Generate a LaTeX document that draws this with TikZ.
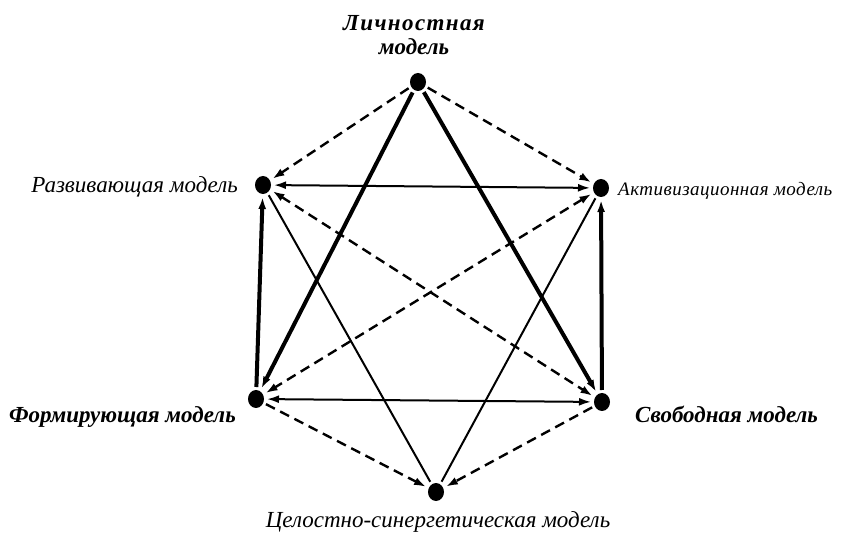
\documentclass[tikz,border=0pt]{standalone}
\usepackage{fontspec}
\setmainfont{Liberation Serif}
\newfontfamily\bspaced[LetterSpace=6]{Liberation Serif}
\newfontfamily\ispaced[LetterSpace=2.5]{Liberation Serif}
\usetikzlibrary{arrows.meta,shapes.geometric}
\tikzset{
  dot/.style={ellipse,fill=black,inner sep=0pt,minimum width=16pt,minimum height=18pt,outer sep=3pt},
  tip/.style={-{Latex[length=12pt,width=8pt]}},
  both/.style={{Latex[length=12pt,width=8pt]}-{Latex[length=12pt,width=8pt]}},
  thickline/.style={line width=4pt},
  thinline/.style={line width=2pt},
  dashline/.style={line width=2.4pt,dash pattern=on 10pt off 6pt},
  lbl/.style={font=\fontsize{23}{26}\selectfont\itshape,inner sep=0pt},
  blbl/.style={font=\fontsize{23}{24}\selectfont\bfseries\itshape,inner sep=0pt,align=center}
}
\begin{document}
\begin{tikzpicture}[x=1pt,y=1pt]
\useasboundingbox (0,0) rectangle (860,536);
\node[dot] (L) at (418,454) {};
\node[dot] (R) at (263,351) {};
\node[dot] (A) at (601,348) {};
\node[dot] (F) at (256,137) {};
\node[dot] (S) at (602,134) {};
\node[dot] (C) at (436,44) {};
% labels
\node[blbl,anchor=base] (tL) at (414,481) {{\bspaced Личностная}\\модель};
\node[lbl,anchor=base east] (tR) at (238,343) {Развивающая модель};
\node[anchor=base west,inner sep=0pt,font=\fontsize{19}{22}\selectfont\ispaced\itshape] (tA) at (618,340) {Активизационная модель};
\node[blbl,anchor=base east] (tF) at (236,113) {Формирующая модель};
\node[blbl,anchor=base west] (tS) at (635,113) {Свободная модель};
\node[lbl,anchor=base] (tC) at (438,9) {Целостно-синергетическая модель};
% connectors
\draw[dashline,tip] (L) -- (R);
\draw[dashline,tip] (L) -- (A);
\draw[thickline,tip] (L) -- (F);
\draw[thickline,tip] (L) -- (S);
\draw[thinline,both] (R) -- (A);
\draw[thickline,tip] (F) -- (R);
\draw[thickline,tip] (S) -- (A);
\draw[thinline,both] (F) -- (S);
\draw[dashline,both] (R) -- (S);
\draw[dashline,both] (A) -- (F);
\draw[thinline] (R) -- (C);
\draw[thinline] (A) -- (C);
\draw[dashline,tip] (F) -- (C);
\draw[dashline,tip] (S) -- (C);
\end{tikzpicture}
\end{document}
